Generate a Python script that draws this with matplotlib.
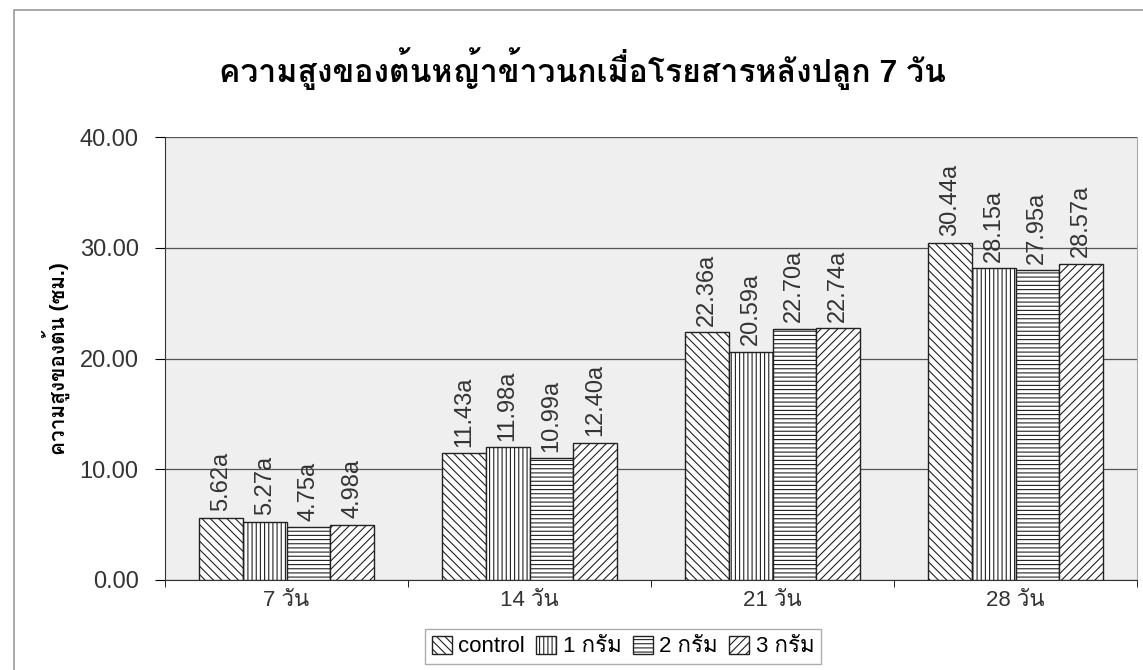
import matplotlib
matplotlib.use('Agg')
import matplotlib.pyplot as plt
import numpy as np
from matplotlib import font_manager
from matplotlib.ft2font import FT2Font
from matplotlib.patches import Rectangle

# ข้อมูลความสูงของต้น (ซม.)
categories = ['7 วัน', '14 วัน', '21 วัน', '28 วัน']
series_names = ['control', '1 กรัม', '2 กรัม', '3 กรัม']
control = [5.62, 11.43, 22.36, 30.44]
gram_1 = [5.27, 11.98, 20.59, 28.15]
gram_2 = [4.75, 10.99, 22.70, 27.95]
gram_3 = [4.98, 12.40, 22.74, 28.57]
letters = ['a', 'a', 'a', 'a']
y_ticks = [0, 10, 20, 30, 40]


def find_thai_family():
    """หาฟอนต์ที่มีอักษรไทย"""
    for f in font_manager.fontManager.ttflist:
        try:
            if 0x0E01 in FT2Font(f.fname).get_charmap():
                return f.name
        except Exception:
            continue
    return None


thai = find_thai_family()
families = ['Liberation Sans', thai, 'DejaVu Sans'] if thai else ['Liberation Sans', 'DejaVu Sans']
plt.rcParams['font.family'] = families
plt.rcParams['hatch.linewidth'] = 0.8

fig = plt.figure(figsize=(11.43, 6.7), dpi=100)
ax = fig.add_axes([165 / 1143, 90 / 670, 972 / 1143, 443 / 670])
ax.set_facecolor('#efefef')

# กรอบนอกของแผนภูมิ
fig.patches.append(Rectangle((14 / 1143, -0.01), 1.0, 0.995, transform=fig.transFigure,
                             fill=False, edgecolor='#999999', linewidth=1.2))

data = [control, gram_1, gram_2, gram_3]
hatches = ['\\\\\\\\', '||||', '----', '////']
width = 0.18
x = np.arange(len(categories))
bars_all = []
for i, (vals, h) in enumerate(zip(data, hatches)):
    offs = (i - 1.5) * width
    bars = ax.bar(x + offs, vals, width, color='white', edgecolor='#222222',
                  hatch=h, linewidth=1.0, label=series_names[i], zorder=3)
    bars_all.append(bars)
    for xi, v, let in zip(x + offs, vals, letters):
        ax.text(xi, v + 0.6, f'{v:.2f}{let}', rotation=90, ha='center', va='bottom',
                fontsize=17, color='#333333', zorder=4)

ax.set_xlim(-0.5, len(categories) - 0.5)
ax.set_ylim(0, 40)
ax.set_yticks(y_ticks)
ax.set_yticklabels([f'{t:.2f}' for t in y_ticks], fontsize=17, color='#333333')
ax.set_xticks(x)
ax.set_xticklabels(categories, fontsize=16, color='#333333')
ax.set_xticks(np.arange(len(categories) + 1) - 0.5, minor=True)
ax.tick_params(axis='x', which='major', length=0, pad=7)
ax.tick_params(axis='x', which='minor', length=5, direction='out')
ax.tick_params(axis='y', length=7, direction='out', pad=12)
ax.grid(axis='y', color='#555555', linewidth=0.9, zorder=0)
ax.spines['top'].set_visible(False)
ax.spines['right'].set_color('#aaaaaa')
ax.spines['left'].set_color('#333333')
ax.spines['bottom'].set_color('#333333')

ax.set_ylabel('ความสูงของต้น (ซม.)', fontsize=15, fontweight='bold', labelpad=7)
fig.text(0.51, 0.898, 'ความสูงของต้นหญ้าข้าวนกเมื่อโรยสารหลังปลูก 7 วัน',
         ha='center', va='center', fontsize=23, fontweight='bold')

fig.legend(handles=bars_all, labels=series_names, loc='center', ncol=4,
           bbox_to_anchor=(0.545, 0.035), fontsize=16, frameon=True, fancybox=False,
           edgecolor='#999999', handlelength=0.9, handleheight=0.9, handletextpad=0.3,
           columnspacing=0.5, borderpad=0.3)

fig.savefig('out.png', dpi=100)
